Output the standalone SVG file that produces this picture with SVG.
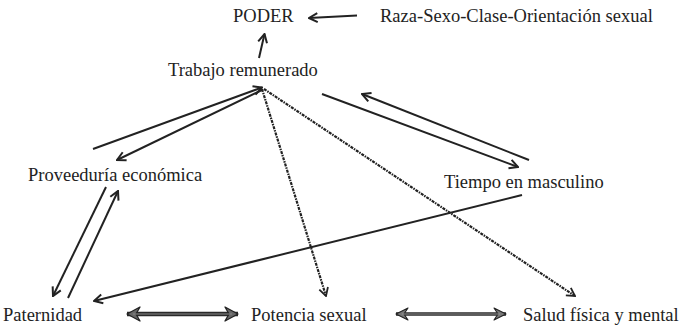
<svg xmlns="http://www.w3.org/2000/svg" width="682" height="326" viewBox="0 0 682 326">
<style>
text{font-family:"Liberation Serif","Times New Roman",serif;font-size:18.5px;fill:#222}
.ln{stroke:#222;stroke-width:2;fill:none}
.ds{stroke:#222;stroke-width:2.2;fill:none;stroke-dasharray:3 1 1.5 1}
.dbl{stroke:#2a2a2a;fill:none}
</style>
<defs>
<marker id="ah" markerUnits="userSpaceOnUse" viewBox="0 0 12 12" markerWidth="12" markerHeight="12" refX="11" refY="6" orient="auto-start-reverse">
<path d="M2.5,1.5 L11,6 L2.5,10.5" fill="none" stroke="#222" stroke-width="2"/>
</marker>
<marker id="ahd" markerUnits="userSpaceOnUse" viewBox="0 0 12 12" markerWidth="12" markerHeight="12" refX="11" refY="6" orient="auto">
<path d="M3,1.5 L11,6 L3,10.5" fill="none" stroke="#222" stroke-width="1.8"/>
</marker>
<marker id="fat" markerUnits="userSpaceOnUse" viewBox="0 0 16 16" markerWidth="16" markerHeight="16" refX="15" refY="8" orient="auto-start-reverse">
<path d="M15,8 L2,1 L6,8 L2,15 Z" fill="#666" stroke="#222" stroke-width="1.3" stroke-linejoin="round"/>
</marker>
<marker id="thin2" markerUnits="userSpaceOnUse" viewBox="0 0 16 16" markerWidth="16" markerHeight="16" refX="15" refY="8" orient="auto-start-reverse">
<path d="M15,8 L3,2 L7,8 L3,14 Z" fill="#777" stroke="#222" stroke-width="1.1" stroke-linejoin="round"/>
</marker>
</defs>

<g id="connectors">
<line class="ln" x1="357" y1="15.5" x2="309" y2="18" marker-end="url(#ah)"/>
<line class="ln" x1="259" y1="58" x2="264.5" y2="34" marker-end="url(#ah)"/>
<line class="ln" x1="93" y1="149" x2="262" y2="87.5" marker-end="url(#ah)"/>
<line class="ln" x1="262" y1="90" x2="117" y2="160" marker-end="url(#ah)"/>
<line class="ds" x1="262" y1="89" x2="326" y2="296" marker-end="url(#ahd)"/>
<line class="ds" x1="264" y1="89" x2="575" y2="296" marker-end="url(#ahd)"/>
<line class="ln" x1="322" y1="94" x2="518" y2="167" marker-end="url(#ah)"/>
<line class="ln" x1="529" y1="160" x2="362" y2="94" marker-end="url(#ah)"/>
<line class="ln" x1="522" y1="195" x2="94" y2="301" marker-end="url(#ah)"/>
<line class="ln" x1="106" y1="187" x2="53" y2="296" marker-end="url(#ah)"/>
<line class="ln" x1="68" y1="298" x2="118" y2="191" marker-end="url(#ah)"/>
<line class="dbl" x1="127" y1="314" x2="238" y2="314" stroke-width="4.5" marker-start="url(#fat)" marker-end="url(#fat)"/>
<line x1="133" y1="314" x2="232" y2="314" stroke="#888" stroke-width="1.2"/>
<line class="dbl" x1="396" y1="314" x2="506" y2="314" stroke-width="3.4" marker-start="url(#thin2)" marker-end="url(#thin2)"/>
<line x1="402" y1="314" x2="500" y2="314" stroke="#999" stroke-width="0.9"/>
</g>

<g id="n-poder"><text x="233" y="21.5">PODER</text></g>
<g id="n-raza"><text x="380" y="21.5">Raza-Sexo-Clase-Orientación sexual</text></g>
<g id="n-trabajo"><text x="168" y="76">Trabajo remunerado</text></g>
<g id="n-proveeduria"><text x="28" y="181">Proveeduría económica</text></g>
<g id="n-tiempo"><text x="444" y="188">Tiempo en masculino</text></g>
<g id="n-paternidad"><text x="3" y="321">Paternidad</text></g>
<g id="n-potencia"><text x="251" y="321">Potencia sexual</text></g>
<g id="n-salud"><text x="523" y="321">Salud física y mental</text></g>
</svg>
